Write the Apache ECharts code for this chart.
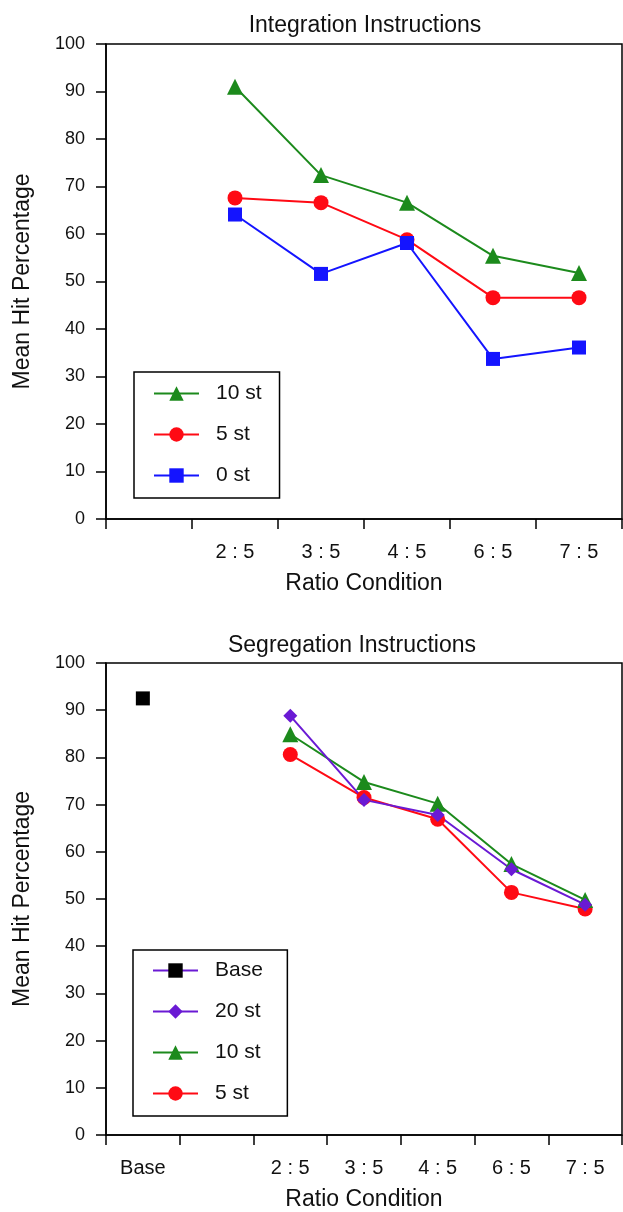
<!DOCTYPE html>
<html>
<head>
<meta charset="utf-8">
<script src="https://cdn.jsdelivr.net/npm/echarts@6/dist/echarts.min.js"></script>
<style>
  html, body { margin: 0; padding: 0; background: #fff; }
  #chart { width: 623px; height: 1212px; }
</style>
</head>
<body>
<div id="chart"></div>
<script>
const topCategories = ["", "2 : 5", "3 : 5", "4 : 5", "6 : 5", "7 : 5"];
const bottomCategories = ["Base", "", "2 : 5", "3 : 5", "4 : 5", "6 : 5", "7 : 5"];

// Integration instructions
const integration10st = [null, 91, 72.4, 66.6, 55.4, 51.8];
const integration5st = [null, 67.6, 66.6, 58.8, 46.6, 46.6];
const integration0st = [null, 64.1, 51.6, 58.1, 33.7, 36.1];

// Segregation instructions
const segregationBase = [92.5, null, null, null, null, null, null];
const segregation20st = [null, null, 88.8, 71, 67.8, 56.3, 48.8];
const segregation10st = [null, null, 84.9, 74.8, 70.2, 57.4, 49.8];
const segregation5st = [null, null, 80.6, 71.5, 66.9, 51.4, 47.9];

const FONT = "Liberation Sans";
const GREEN = "#1c8a1c";
const RED = "#ff0a14";
const BLUE = "#1414ff";
const PURPLE = "#6a1ad4";

const chart = echarts.init(document.getElementById("chart"));

function yAxis(gridIndex) {
  return {
    gridIndex,
    type: "value",
    min: 0,
    max: 100,
    interval: 10,
    name: "Mean Hit Percentage",
    nameLocation: "middle",
    nameGap: 72,
    nameTextStyle: { fontFamily: FONT, fontSize: 23, color: "#111" },
    axisLine: { show: true, lineStyle: { color: "#000", width: 1.5 } },
    axisTick: { show: true, length: 10, lineStyle: { color: "#000", width: 1.5 } },
    axisLabel: { fontFamily: FONT, fontSize: 18, color: "#111", margin: 21 },
    splitLine: { show: false },
  };
}

function xAxis(gridIndex, data) {
  return {
    gridIndex,
    type: "category",
    data,
    boundaryGap: true,
    name: "Ratio Condition",
    nameLocation: "middle",
    nameGap: 53,
    nameTextStyle: { fontFamily: FONT, fontSize: 23, color: "#111" },
    axisLine: { show: true, lineStyle: { color: "#000", width: 1.5 } },
    axisTick: { show: true, length: 10, interval: 0, lineStyle: { color: "#000", width: 1.5 } },
    axisLabel: { fontFamily: FONT, fontSize: 20, color: "#111", margin: 23, interval: 0 },
    splitLine: { show: false },
  };
}

function lineSeries(name, data, color, symbol, size, axisIndex, lineColor) {
  return {
    name,
    type: "line",
    xAxisIndex: axisIndex,
    yAxisIndex: axisIndex,
    data,
    symbol,
    symbolSize: size,
    connectNulls: false,
    lineStyle: { color: lineColor || color, width: 2 },
    itemStyle: { color, borderWidth: 0 },
    emphasis: { disabled: true },
  };
}

const legendCommon = {
  orient: "vertical",
  backgroundColor: "#fff",
  borderColor: "#000",
  borderWidth: 1.5,
  borderRadius: 0,
  itemWidth: 45,
  itemHeight: 18,
  textStyle: { fontFamily: FONT, fontSize: 21, lineHeight: 21, color: "#111", padding: [0, 0, 0, 12] },
};

chart.setOption({
  animation: false,
  backgroundColor: "#fff",
  title: [
    {
      text: "Integration Instructions",
      left: 360,
      top: 9,
      textAlign: "center",
      textStyle: { fontFamily: FONT, fontSize: 23, fontWeight: "normal", color: "#111" },
    },
    {
      text: "Segregation Instructions",
      left: 347,
      top: 629,
      textAlign: "center",
      textStyle: { fontFamily: FONT, fontSize: 23, fontWeight: "normal", color: "#111" },
    },
  ],
  grid: [
    { left: 106, top: 44, width: 516, height: 475, show: true, borderColor: "#000", borderWidth: 1.5 },
    { left: 106, top: 663, width: 516, height: 475, show: true, borderColor: "#000", borderWidth: 1.5 },
  ],
  xAxis: [xAxis(0, topCategories), xAxis(1, bottomCategories)],
  yAxis: [yAxis(0), yAxis(1)],
  legend: [
    Object.assign({}, legendCommon, {
      left: 134,
      top: 372,
      itemGap: 20,
      padding: [11, 18, 12, 19],
      data: ["10 st", "5 st", "0 st"],
    }),
    Object.assign({}, legendCommon, {
      left: 133,
      top: 950,
      itemGap: 20,
      padding: [10, 21, 12, 19],
      data: ["Base", "20 st", "10 st ", "5 st "],
    }),
  ],
  series: [
    lineSeries("10 st", integration10st, GREEN, "triangle", 16, 0),
    lineSeries("5 st", integration5st, RED, "circle", 15, 0),
    lineSeries("0 st", integration0st, BLUE, "rect", 14, 0),
    lineSeries("5 st ", segregation5st, RED, "circle", 15, 1),
    lineSeries("10 st ", segregation10st, GREEN, "triangle", 16, 1),
    lineSeries("20 st", segregation20st, PURPLE, "diamond", 14, 1),
    lineSeries("Base", segregationBase, "#000", "rect", 14, 1, PURPLE),
  ],
});
</script>
</body>
</html>
